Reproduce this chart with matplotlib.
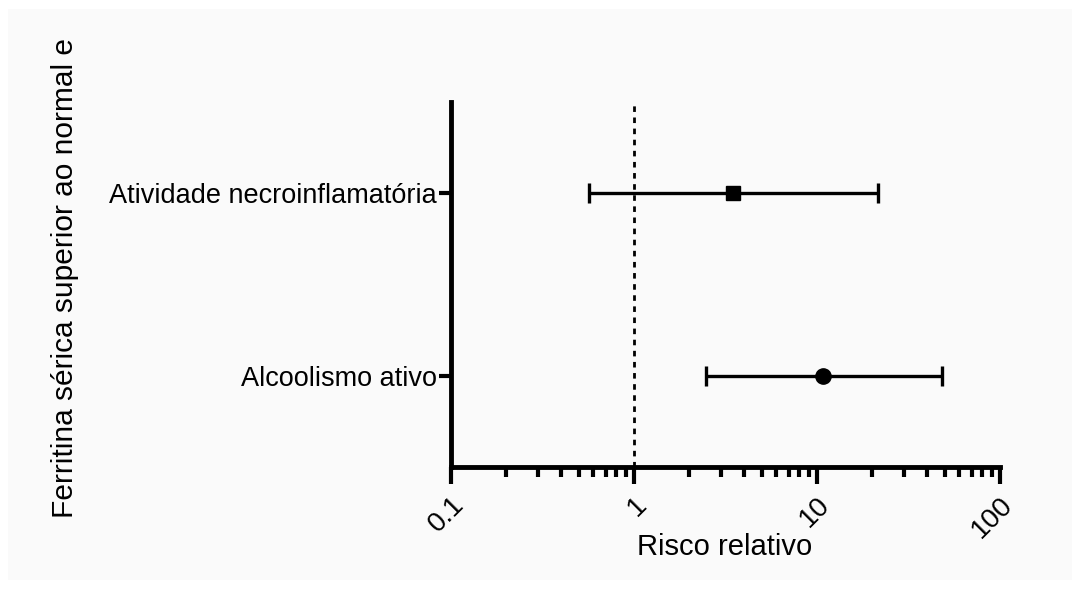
import numpy as np
import matplotlib.pyplot as plt
from matplotlib.patches import Rectangle
from matplotlib.ticker import LogLocator, NullFormatter, FixedLocator

plt.rcParams['font.family'] = ['Liberation Sans', 'DejaVu Sans']

# Fatores avaliados (de cima para baixo) e respectivos riscos relativos com IC 95%
fatores = ['Atividade necroinflamatória', 'Alcoolismo ativo']
rr = [3.47, 10.8]
ic_inf = [0.57, 2.47]
ic_sup = [21.5, 48.2]
marcadores = ['s', 'o']
posicoes = [2, 1]

fig = plt.figure(figsize=(10.83, 5.89), dpi=100)
fig.patch.set_facecolor('white')
# fundo levemente acinzentado da área útil
fig.add_artist(Rectangle((0.007, 0.015), 0.983, 0.97, transform=fig.transFigure,
                         facecolor='#fafafa', edgecolor='none', zorder=-10))

ax = fig.add_axes([0.4164, 0.2071, 0.5070, 0.6197])
ax.set_facecolor('none')

for y, m, v, lo, hi in zip(posicoes, marcadores, rr, ic_inf, ic_sup):
    ax.errorbar(v, y, xerr=[[v - lo], [hi - v]], fmt=m, color='black',
                markersize=11 if m == 'o' else 10.5, elinewidth=2.4, capsize=7, capthick=2.4)

# linha de referência em RR = 1
ax.axvline(1, color='black', linestyle=(0, (2, 2)), linewidth=2)

ax.set_xscale('log')
ax.set_xlim(0.1, 100)
ax.set_ylim(0.5, 2.5)
ax.xaxis.set_major_locator(FixedLocator([0.1, 1, 10, 100]))
ax.set_xticklabels(['0.1', '1', '10', '100'], rotation=45, ha='right', rotation_mode='anchor')
ax.xaxis.set_minor_locator(LogLocator(base=10, subs=np.arange(2, 10)))
ax.xaxis.set_minor_formatter(NullFormatter())
ax.set_yticks(posicoes)
ax.set_yticklabels(fatores)

for lado in ['top', 'right']:
    ax.spines[lado].set_visible(False)
for lado in ['left', 'bottom']:
    ax.spines[lado].set_linewidth(3.5)

ax.tick_params(axis='x', which='major', length=12, width=3, labelsize=20, pad=6)
ax.tick_params(axis='x', which='minor', length=7, width=3)
ax.tick_params(axis='y', length=9, width=3, labelsize=19.5, pad=1)

ax.set_xlabel('Risco relativo', fontsize=21)
ax.xaxis.set_label_coords(0.499, -0.18)
fig.text(0.060, 0.528, 'Ferritina sérica superior ao normal e', rotation=90,
         ha='center', va='center', fontsize=21.5)

fig.savefig('out.png', dpi=100)
